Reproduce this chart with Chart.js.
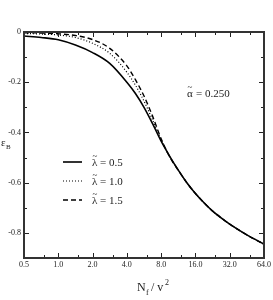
<!DOCTYPE html>
<html>
<head>
<meta charset="utf-8">
<script src="https://cdn.jsdelivr.net/npm/chart.js@4.4.1/dist/chart.umd.min.js"></script>
<style>
  html, body { margin: 0; padding: 0; background: #fff; }
  canvas { display: block; }
</style>
</head>
<body>
<canvas id="chart" width="273" height="300"></canvas>
<script>
// N_f / v^2 (log axis, base 2)
const xValues = [0.5, 0.707, 1, 1.414, 2, 2.828, 4, 4.757, 5.657, 6.727, 8, 9.514, 11.31, 13.45, 16, 19.03, 22.63, 26.91, 32, 45.25, 64];

// eps_B for each lambda
const eps05 = [-0.016, -0.022, -0.031, -0.052, -0.082, -0.125, -0.2, -0.245, -0.3, -0.365, -0.435, -0.495, -0.55, -0.6, -0.643, -0.68, -0.713, -0.74, -0.765, -0.808, -0.845];
const eps10 = [-0.006, -0.008, -0.012, -0.022, -0.045, -0.085, -0.16, -0.212, -0.275, -0.35, -0.43, -0.496, -0.55, -0.6, -0.643, -0.68, -0.713, -0.74, -0.765, -0.808, -0.845];
const eps15 = [-0.003, -0.004, -0.007, -0.014, -0.03, -0.065, -0.135, -0.19, -0.255, -0.335, -0.425, -0.497, -0.55, -0.6, -0.643, -0.68, -0.713, -0.74, -0.765, -0.808, -0.845];

const xTicks      = [0.5, 1, 2, 4, 8, 16, 32, 64];
const xMinorTicks = [0.75, 1.5, 3, 6, 12, 24, 48];
const yTicks      = [0, -0.2, -0.4, -0.6, -0.8];
const yMinorTicks = [-0.1, -0.3, -0.5, -0.7];

const legendLabels = ['0.5', '1.0', '1.5'];
const alphaLabel   = '0.250';

const SERIF = '"Liberation Serif", "DejaVu Serif", serif';
const INK   = '#222';

const series = [
    { data: eps05, dash: [],     width: 1.6 },
    { data: eps10, dash: [1, 2], width: 1.2 },
    { data: eps15, dash: [5, 3], width: 1.4 },
];

// рамка, внутренние засечки, легенда и подписи
const decorations = {
    id: 'decorations',
    afterDraw(chart) {
        const { ctx, chartArea: a, scales: { x, y } } = chart;
        ctx.save();

        ctx.strokeStyle = INK;
        ctx.lineWidth = 1;
        const tick = (px, len, vertical) => {
            ctx.beginPath();
            if (vertical) {
                ctx.moveTo(px, a.bottom); ctx.lineTo(px, a.bottom - len);
                ctx.moveTo(px, a.top);    ctx.lineTo(px, a.top + len);
            } else {
                ctx.moveTo(a.left, px);  ctx.lineTo(a.left + len, px);
                ctx.moveTo(a.right, px); ctx.lineTo(a.right - len, px);
            }
            ctx.stroke();
        };
        xTicks.forEach(v => tick(Math.round(x.getPixelForValue(v)) + 0.5, 5, true));
        xMinorTicks.forEach(v => tick(Math.round(x.getPixelForValue(v)) + 0.5, 3, true));
        yTicks.forEach(v => tick(Math.round(y.getPixelForValue(v)) + 0.5, 5, false));
        yMinorTicks.forEach(v => tick(Math.round(y.getPixelForValue(v)) + 0.5, 3, false));

        ctx.lineWidth = 2;
        ctx.strokeStyle = '#333';
        ctx.strokeRect(a.left, a.top, a.right - a.left, a.bottom - a.top);

        // легенда
        ctx.fillStyle = INK;
        ctx.textBaseline = 'middle';
        const rows = [162, 181, 200];
        series.forEach((s, i) => {
            ctx.beginPath();
            ctx.setLineDash(s.dash);
            ctx.lineWidth = s.width;
            ctx.strokeStyle = '#000';
            ctx.moveTo(63, rows[i]); ctx.lineTo(82, rows[i]);
            ctx.stroke();
            ctx.setLineDash([]);
            ctx.font = `11px ${SERIF}`;
            ctx.textAlign = 'left';
            ctx.fillText('λ', 92, rows[i] + 1);
            ctx.font = `9px ${SERIF}`;
            ctx.fillText('~', 92.5, rows[i] - 5);
            ctx.font = `11px ${SERIF}`;
            ctx.fillText('= ' + legendLabels[i], 100, rows[i] + 1);
        });

        // alpha
        ctx.font = `11px ${SERIF}`;
        ctx.fillText('α', 187, 94);
        ctx.font = `9px ${SERIF}`;
        ctx.fillText('~', 187.5, 88);
        ctx.font = `11px ${SERIF}`;
        ctx.fillText('= ' + alphaLabel, 196, 94);

        // подписи осей
        ctx.textBaseline = 'alphabetic';
        ctx.font = `12px ${SERIF}`;
        ctx.fillText('N', 137, 291);
        ctx.font = `8px ${SERIF}`;
        ctx.fillText('f', 146, 295);
        ctx.font = `12px ${SERIF}`;
        ctx.fillText('/ v', 151, 291);
        ctx.font = `8px ${SERIF}`;
        ctx.fillText('2', 165, 285);

        ctx.font = `11px ${SERIF}`;
        ctx.fillText('ε', 1, 146);
        ctx.font = `7px ${SERIF}`;
        ctx.fillText('B', 6, 149);

        ctx.restore();
    }
};

new Chart(document.getElementById('chart'), {
    type: 'line',
    data: {
        datasets: series.map(s => ({
            data: xValues.map((v, i) => ({ x: v, y: s.data[i] })),
            borderColor: '#000',
            borderWidth: s.width,
            borderDash: s.dash,
            pointRadius: 0,
            fill: false,
            cubicInterpolationMode: 'monotone',
        }))
    },
    options: {
        responsive: false,
        animation: false,
        devicePixelRatio: 1,
        layout: { padding: { left: 0, right: 6, top: 32, bottom: 0 } },
        plugins: { legend: { display: false }, tooltip: { enabled: false } },
        scales: {
            x: {
                type: 'logarithmic',
                min: 0.5, max: 64,
                grid: { display: false, drawTicks: false },
                border: { display: false },
                afterBuildTicks: s => { s.ticks = xTicks.map(v => ({ value: v })); },
                afterFit: s => { s.height = 42; },
                ticks: {
                    autoSkip: false, maxRotation: 0, padding: 2,
                    color: INK, font: { family: SERIF, size: 8 },
                    callback: v => Number(v).toFixed(1),
                },
            },
            y: {
                min: -0.9, max: 0,
                grid: { display: false, drawTicks: false },
                border: { display: false },
                afterBuildTicks: s => { s.ticks = yTicks.map(v => ({ value: v })); },
                afterFit: s => { s.width = 24; },
                ticks: {
                    padding: 3,
                    color: INK, font: { family: SERIF, size: 8 },
                    callback: v => v === 0 ? '0' : v.toFixed(1),
                },
            },
        },
    },
    plugins: [decorations],
});
</script>
</body>
</html>
